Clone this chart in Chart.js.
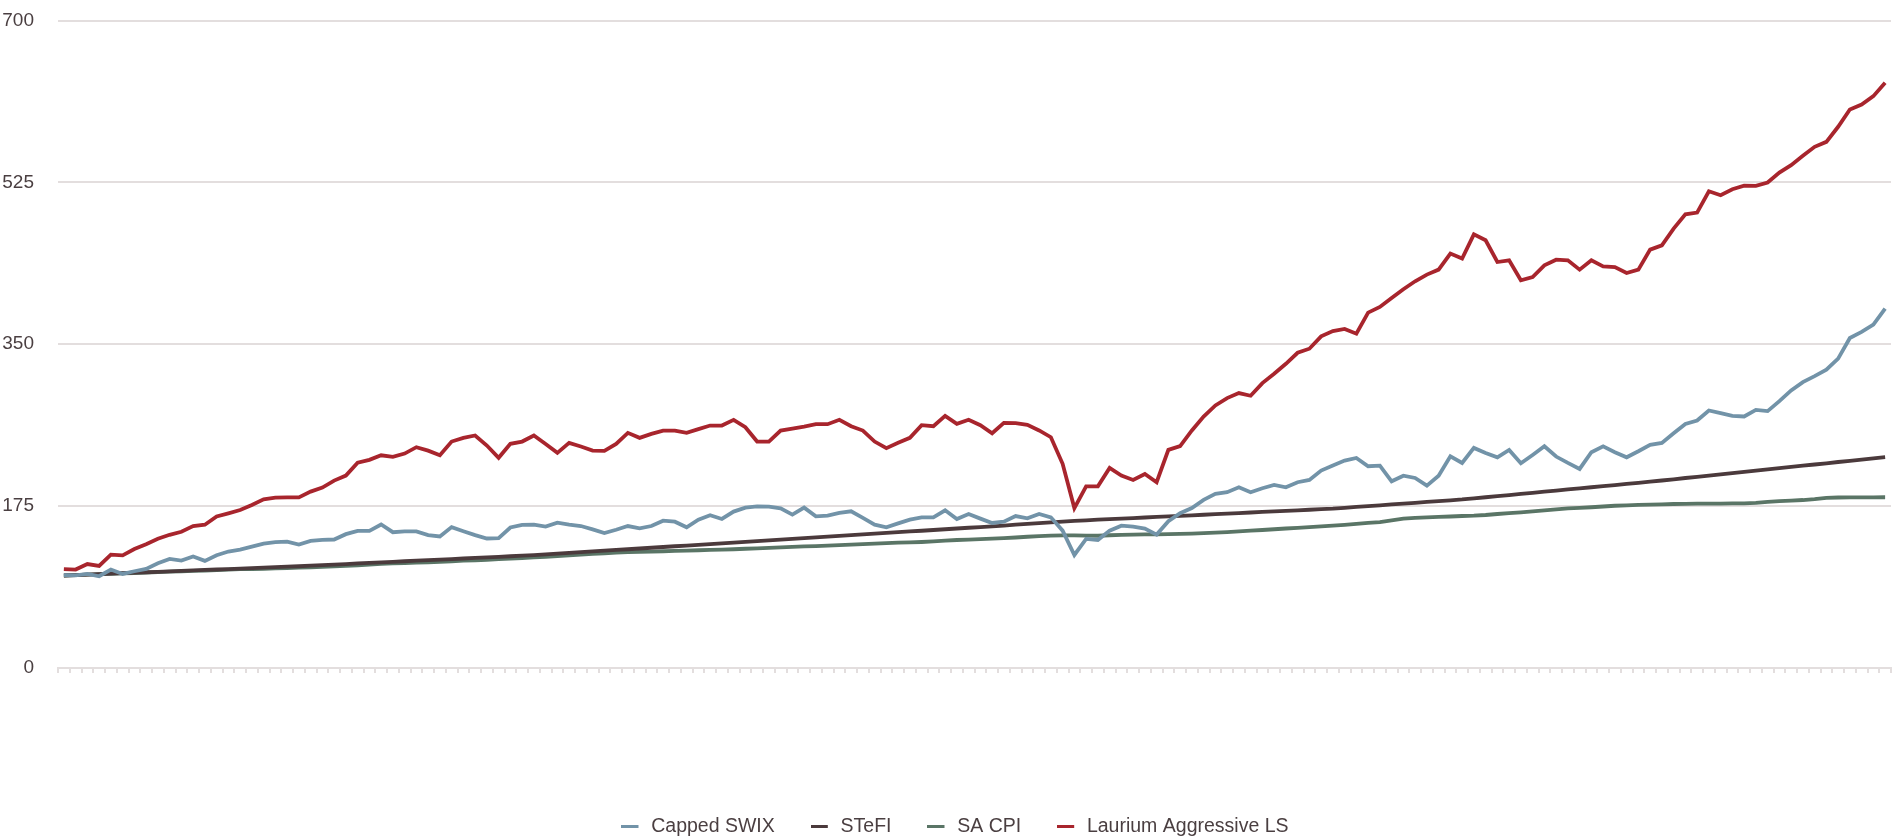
<!DOCTYPE html>
<html>
<head>
<meta charset="utf-8">
<script src="https://cdn.jsdelivr.net/npm/chart.js@4/dist/chart.umd.min.js"></script>
<style>
  html, body { margin: 0; padding: 0; background: #fff; overflow: hidden; }
  #wrap { width: 1893px; height: 840px; position: relative; }
</style>
</head>
<body>
<div id="wrap"><canvas id="myChart"></canvas></div>
<script>
// =========================================================
// Data (monthly index, 156 points, start = 100)
const seriesNames = ['Capped SWIX', 'STeFI', 'SA CPI', 'Laurium Aggressive LS'];

const swixData = [
  100.5, 100.2, 101.7, 99.2, 106.4, 101.7, 104.6, 107.1, 113.3, 117.9,
  116.1, 120.5, 115.8, 121.9, 125.9, 128.0, 131.3, 134.5, 136.0, 136.7,
  133.5, 137.4, 138.5, 138.9, 144.7, 148.3, 148.3, 155.1, 146.8, 147.6,
  147.6, 143.6, 142.2, 152.3, 147.9, 143.6, 140.0, 140.4, 151.9, 154.8,
  155.1, 152.8, 157.1, 155.0, 153.5, 149.9, 145.9, 149.5, 153.5, 151.0,
  153.5, 159.3, 158.2, 152.1, 160.4, 165.1, 161.1, 169.1, 173.4, 174.8,
  174.5, 172.7, 165.8, 173.4, 164.0, 164.7, 167.6, 169.4, 162.2, 155.0,
  152.1, 156.4, 160.4, 162.9, 162.9, 170.5, 161.1, 166.5, 161.5, 156.8,
  158.2, 164.3, 161.8, 166.5, 162.9, 148.5, 122.2, 139.5, 138.4, 148.5,
  153.9, 152.8, 150.7, 144.2, 158.6, 167.3, 173.0, 181.7, 188.2, 190.0,
  195.4, 190.0, 194.3, 197.9, 195.4, 200.8, 203.3, 213.4, 218.8, 224.2,
  227.1, 218.1, 218.8, 201.8, 207.9, 205.4, 197.1, 207.9, 228.9, 221.6,
  237.9, 232.5, 227.8, 235.8, 221.3, 230.3, 239.7, 228.6, 221.7, 215.2,
  233.3, 239.7, 233.3, 227.8, 234.3, 241.2, 243.4, 253.8, 263.9, 267.6,
  278.4, 275.5, 272.6, 271.9, 279.1, 277.7, 288.5, 300.1, 309.1, 315.6,
  322.5, 334.4, 356.8, 363.3, 371.2, 388.5
];

const stefiData = [
  100.0, 100.5, 101.0, 101.5, 102.0, 102.5, 103.0, 103.5, 104.0, 104.5,
  105.0, 105.5, 106.0, 106.5, 107.0, 107.5, 108.0, 108.5, 109.0, 109.5,
  110.0, 110.6, 111.2, 111.8, 112.4, 113.0, 113.6, 114.2, 114.8, 115.4,
  116.0, 116.6, 117.2, 117.8, 118.4, 119.0, 119.6, 120.2, 120.8, 121.4,
  122.0, 122.8, 123.6, 124.4, 125.2, 126.0, 126.8, 127.6, 128.4, 129.2,
  130.0, 130.8, 131.6, 132.4, 133.2, 134.0, 134.8, 135.6, 136.4, 137.2,
  138.0, 138.8, 139.6, 140.4, 141.2, 142.0, 142.8, 143.6, 144.4, 145.2,
  146.0, 146.8, 147.6, 148.4, 149.2, 150.0, 150.8, 151.6, 152.4, 153.2,
  154.0, 154.9, 155.7, 156.6, 157.4, 158.3, 159.1, 159.7, 160.3, 160.9,
  161.5, 162.1, 162.7, 163.3, 163.9, 164.5, 165.1, 165.7, 166.3, 166.9,
  167.5, 168.1, 168.7, 169.3, 169.9, 170.5, 171.1, 171.7, 172.3, 173.2,
  174.1, 175.0, 175.9, 176.8, 177.7, 178.6, 179.5, 180.4, 181.3, 182.2,
  183.4, 184.6, 185.8, 187.0, 188.2, 189.4, 190.6, 191.8, 193.0, 194.2,
  195.4, 196.6, 197.8, 199.0, 200.2, 201.4, 202.7, 204.0, 205.4, 206.7,
  208.0, 209.4, 210.7, 212.0, 213.4, 214.7, 216.0, 217.4, 218.7, 220.0,
  221.3, 222.7, 224.0, 225.3, 226.7, 228.0
];

const cpiData = [
  100.0, 100.4, 101.0, 101.5, 101.9, 102.3, 102.6, 103.1, 103.6, 104.1,
  104.5, 104.9, 105.3, 105.9, 106.4, 106.8, 107.0, 107.3, 107.6, 108.0,
  108.5, 108.9, 109.3, 109.8, 110.4, 111.1, 111.8, 112.5, 113.0, 113.4,
  113.9, 114.3, 114.8, 115.4, 116.0, 116.5, 117.0, 117.6, 118.3, 118.9,
  119.5, 120.1, 120.9, 121.7, 122.5, 123.3, 124.0, 124.8, 125.3, 125.6,
  125.9, 126.2, 126.6, 127.0, 127.3, 127.7, 128.0, 128.4, 128.9, 129.3,
  129.8, 130.4, 130.9, 131.4, 131.8, 132.3, 132.8, 133.3, 133.9, 134.5,
  135.1, 135.6, 135.8, 136.2, 136.8, 137.6, 138.4, 138.8, 139.3, 139.8,
  140.4, 141.1, 141.9, 142.6, 143.1, 143.3, 143.4, 143.2, 143.0, 143.5,
  144.0, 144.2, 144.4, 144.5, 144.7, 144.9, 145.3, 145.8, 146.4, 147.0,
  147.7, 148.5, 149.2, 150.0, 150.8, 151.5, 152.2, 153.0, 153.9, 154.8,
  155.8, 156.8, 157.8, 159.6, 161.5, 162.2, 162.8, 163.3, 163.8, 164.3,
  164.7, 165.4, 166.5, 167.4, 168.3, 169.4, 170.5, 171.5, 172.6, 173.2,
  173.8, 174.6, 175.4, 175.9, 176.3, 176.7, 177.0, 177.3, 177.5, 177.6,
  177.7, 177.8, 177.9, 178.0, 178.6, 179.6, 180.4, 181.0, 181.6, 182.6,
  184.0, 184.3, 184.4, 184.4, 184.5, 184.6
];

const lauriumData = [
  107.0, 106.4, 112.4, 110.3, 122.5, 121.8, 128.6, 133.9, 139.7, 144.0,
  147.3, 153.4, 154.9, 163.9, 167.2, 170.8, 176.2, 182.4, 184.1, 184.5,
  184.5, 190.7, 195.0, 202.6, 208.0, 222.0, 225.0, 230.0, 228.2, 231.8,
  238.7, 235.0, 230.0, 244.8, 248.8, 251.4, 240.5, 227.2, 242.4, 244.8,
  251.4, 242.2, 232.6, 243.4, 239.4, 235.1, 234.7, 242.3, 254.2, 248.8,
  253.1, 256.7, 256.7, 254.2, 258.2, 262.1, 262.1, 268.3, 260.3, 244.8,
  244.8, 256.7, 258.9, 261.0, 263.6, 263.6, 268.3, 261.4, 256.7, 244.8,
  237.6, 243.4, 248.8, 262.5, 261.4, 272.6, 263.9, 268.3, 262.5, 253.8,
  265.0, 264.7, 262.9, 256.8, 249.5, 220.7, 172.9, 196.4, 196.4, 216.3,
  208.0, 203.3, 209.8, 200.8, 235.8, 239.8, 256.8, 271.9, 283.8, 291.8,
  297.2, 294.3, 308.0, 318.1, 328.9, 340.8, 345.2, 358.5, 364.3, 366.5,
  361.4, 384.2, 390.3, 400.1, 409.5, 418.1, 425.3, 430.7, 448.1, 442.7,
  468.8, 462.4, 438.9, 440.7, 419.1, 422.7, 435.3, 441.4, 440.7, 430.6,
  440.7, 434.2, 433.5, 427.0, 430.6, 452.3, 456.9, 475.0, 490.5, 492.3,
  515.4, 511.1, 517.6, 521.5, 521.2, 524.8, 535.6, 543.6, 553.7, 563.4,
  568.8, 585.1, 603.8, 609.2, 618.2, 632.7
];

// x labels are blank in the original (only tick marks shown)
const xLabels = lauriumData.map(() => '');

// y axis ticks
const yTicks = [0, 175, 350, 525, 700];

// =======================
// Style
// =======================
const lineColors = ['#7293a8', '#4b3a3c', '#5a7566', '#a8252d'];
const textColor = '#4a3f41';
const gridColor = '#e3dede';
const fontFamily = "'Liberation Sans', Arial, Helvetica, sans-serif";

const datasets = [swixData, stefiData, cpiData, lauriumData].map((d, i) => ({
  label: seriesNames[i],
  data: d,
  borderColor: lineColors[i],
  backgroundColor: lineColors[i],
  borderWidth: 3.8,
  pointRadius: 0,
  tension: 0,
  fill: false
}));

// legend marker: a short dash, left aligned in a slightly wider box
function legendDash(color) {
  const c = document.createElement('canvas');
  c.width = 20;
  c.height = 3;
  const g = c.getContext('2d');
  g.fillStyle = color;
  g.fillRect(0, 0, 17, 3);
  return c;
}

// move legend a bit lower / right to match the original spacing
const nudgeLegend = {
  id: 'nudgeLegend',
  afterLayout(chart) {
    const lg = chart.legend;
    lg.top += 6; lg.bottom += 6;
    lg.left += 8; lg.right += 8;
  }
};

const ctx = document.getElementById('myChart').getContext('2d');

new Chart(ctx, {
  type: 'line',
  data: { labels: xLabels, datasets: datasets },
  options: {
    responsive: true,
    maintainAspectRatio: false,
    animation: false,
    layout: { padding: { top: 20.5, left: 3, right: 2, bottom: 0 } },
    scales: {
      x: {
        offset: true,
        grid: {
          offset: true,
          drawOnChartArea: false,
          drawTicks: true,
          tickLength: 5,
          color: gridColor,
          lineWidth: 2
        },
        border: { display: true, color: gridColor, width: 2 },
        ticks: { display: false, autoSkip: false },
        afterFit: axis => { axis.height = 106.5; }
      },
      y: {
        min: 0,
        max: 700,
        afterBuildTicks: axis => { axis.ticks = yTicks.map(v => ({ value: v })); },
        afterFit: axis => { axis.width = 55; },
        grid: {
          color: gridColor,
          lineWidth: 2,
          drawTicks: true,
          tickLength: 24,
          tickColor: 'rgba(0,0,0,0)'
        },
        border: { display: false },
        ticks: {
          padding: 0,
          color: textColor,
          font: { family: fontFamily, size: 19 }
        }
      }
    },
    plugins: {
      legend: {
        position: 'bottom',
        labels: {
          color: textColor,
          usePointStyle: true,
          pointStyleWidth: 20,
          boxHeight: 3,
          padding: 36,
          font: { family: fontFamily, size: 19.5 },
          generateLabels: chart =>
            Chart.defaults.plugins.legend.labels.generateLabels(chart)
              .map((l, i) => Object.assign(l, {
                lineWidth: 0,
                pointStyle: legendDash(lineColors[i])
              }))
        }
      },
      tooltip: { enabled: false }
    }
  },
  plugins: [nudgeLegend]
});
</script>
</body>
</html>
